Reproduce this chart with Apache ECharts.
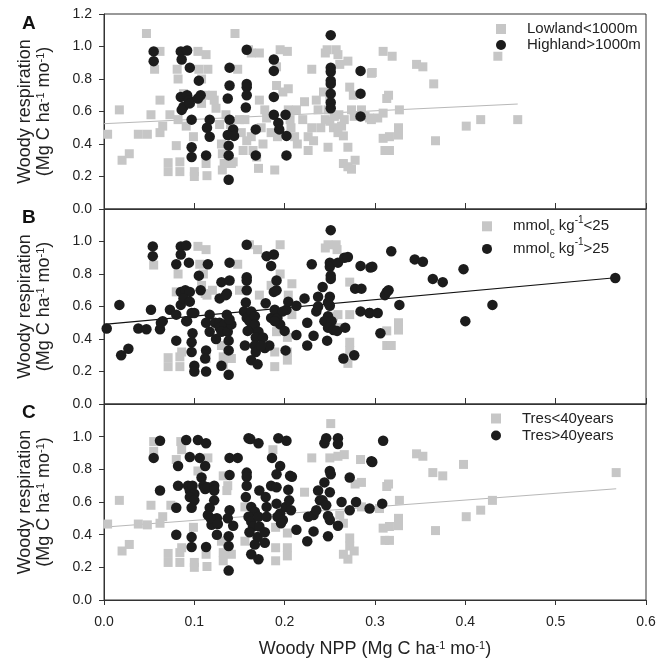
<!DOCTYPE html>
<html>
<head>
<meta charset="utf-8">
<script src="https://cdn.jsdelivr.net/npm/echarts@6/dist/echarts.min.js"></script>
<style>
html,body{margin:0;padding:0;background:#fff;}
#chart{width:671px;height:669px;}
</style>
</head>
<body>
<div id="chart"></div>
<script>
// ---------- Panel A: elevation ----------
const lowlandA = [[0.004,0.46],[0.017,0.61],[0.02,0.30],[0.028,0.34],[0.038,0.46],[0.048,0.46],[0.047,1.08],[0.052,0.58],[0.056,0.86],[0.062,0.97],[0.062,0.67],[0.062,0.47],[0.065,0.51],[0.071,0.285],[0.071,0.23],[0.073,0.58],[0.081,0.86],[0.082,0.80],[0.08,0.39],[0.082,0.55],[0.084,0.29],[0.084,0.23],[0.088,0.71],[0.091,0.51],[0.099,0.445],[0.10,0.23],[0.10,0.20],[0.104,0.97],[0.113,0.95],[0.105,0.86],[0.115,0.86],[0.108,0.80],[0.108,0.65],[0.112,0.70],[0.113,0.28],[0.114,0.205],[0.12,0.70],[0.122,0.67],[0.124,0.62],[0.128,0.52],[0.13,0.40],[0.131,0.34],[0.133,0.28],[0.131,0.24],[0.141,0.28],[0.143,0.29],[0.145,1.08],[0.148,0.86],[0.15,0.55],[0.156,0.55],[0.154,0.36],[0.16,0.98],[0.163,0.96],[0.163,0.445],[0.165,0.36],[0.169,0.32],[0.171,0.25],[0.172,0.96],[0.172,0.67],[0.174,0.50],[0.176,0.40],[0.178,0.61],[0.189,0.24],[0.191,0.875],[0.195,0.98],[0.203,0.97],[0.191,0.76],[0.192,0.445],[0.198,0.72],[0.204,0.74],[0.204,0.61],[0.206,0.55],[0.207,0.50],[0.211,0.445],[0.214,0.40],[0.213,0.61],[0.222,0.66],[0.226,0.445],[0.226,0.36],[0.23,0.86],[0.232,0.42],[0.235,0.67],[0.237,0.61],[0.24,0.50],[0.245,0.96],[0.247,0.98],[0.257,0.98],[0.259,0.95],[0.248,0.38],[0.248,0.61],[0.25,0.54],[0.254,0.50],[0.259,0.47],[0.263,0.51],[0.266,0.55],[0.261,0.89],[0.27,0.91],[0.265,0.45],[0.27,0.38],[0.272,0.75],[0.276,0.70],[0.274,0.61],[0.277,0.57],[0.265,0.28],[0.27,0.26],[0.278,0.30],[0.274,0.245],[0.285,0.61],[0.289,0.57],[0.296,0.835],[0.296,0.55],[0.297,0.84],[0.309,0.97],[0.319,0.94],[0.346,0.89],[0.353,0.875],[0.365,0.77],[0.313,0.68],[0.315,0.70],[0.294,0.56],[0.303,0.56],[0.309,0.59],[0.327,0.61],[0.309,0.435],[0.316,0.445],[0.326,0.455],[0.326,0.50],[0.311,0.36],[0.316,0.36],[0.367,0.42],[0.401,0.51],[0.417,0.55],[0.458,0.55],[0.436,0.94],[0.135,0.58],[0.14,0.52],[0.152,0.47],[0.158,0.42],[0.18,0.56],[0.185,0.47],[0.22,0.55],[0.23,0.50],[0.245,0.55],[0.255,0.57],[0.26,0.58],[0.243,0.72],[0.25,0.69]];
const highlandA = [[0.055,0.97],[0.055,0.91],[0.085,0.97],[0.092,0.975],[0.086,0.92],[0.095,0.87],[0.105,0.79],[0.085,0.69],[0.092,0.70],[0.094,0.67],[0.088,0.63],[0.086,0.61],[0.095,0.65],[0.107,0.70],[0.104,0.68],[0.097,0.55],[0.097,0.38],[0.097,0.32],[0.113,0.33],[0.117,0.55],[0.114,0.50],[0.117,0.445],[0.139,0.87],[0.139,0.76],[0.137,0.68],[0.139,0.55],[0.143,0.49],[0.137,0.455],[0.144,0.45],[0.138,0.39],[0.138,0.33],[0.138,0.18],[0.158,0.98],[0.158,0.77],[0.158,0.75],[0.158,0.70],[0.157,0.625],[0.168,0.49],[0.168,0.33],[0.188,0.92],[0.188,0.85],[0.188,0.69],[0.188,0.58],[0.193,0.53],[0.194,0.49],[0.201,0.58],[0.202,0.45],[0.202,0.33],[0.251,1.07],[0.251,0.87],[0.251,0.845],[0.251,0.79],[0.251,0.77],[0.251,0.71],[0.251,0.655],[0.251,0.62],[0.284,0.85],[0.284,0.71],[0.284,0.57]];
const trendA = [[0,0.525],[0.458,0.646]];

// ---------- Panel B: soil ----------
const lowSoilB = [[0.055,0.855],[0.071,0.285],[0.071,0.23],[0.084,0.29],[0.084,0.23],[0.086,0.32],[0.082,0.80],[0.08,0.69],[0.104,0.97],[0.113,0.95],[0.106,0.86],[0.11,0.80],[0.108,0.73],[0.112,0.68],[0.12,0.70],[0.114,0.67],[0.113,0.32],[0.113,0.28],[0.13,0.36],[0.132,0.29],[0.141,0.28],[0.132,0.24],[0.148,0.86],[0.15,0.70],[0.161,0.98],[0.17,0.95],[0.172,0.67],[0.195,0.98],[0.195,0.80],[0.185,0.73],[0.189,0.70],[0.191,0.445],[0.189,0.32],[0.189,0.23],[0.203,0.41],[0.203,0.32],[0.203,0.27],[0.204,0.67],[0.208,0.74],[0.208,0.55],[0.245,0.96],[0.248,0.98],[0.257,0.98],[0.258,0.95],[0.254,0.54],[0.259,0.55],[0.272,0.55],[0.272,0.75],[0.272,0.38],[0.272,0.33],[0.27,0.25],[0.259,0.47],[0.313,0.45],[0.326,0.50],[0.326,0.455],[0.313,0.36],[0.318,0.36]];
const highSoilB = [[0.003,0.465],[0.017,0.61],[0.019,0.30],[0.027,0.34],[0.038,0.465],[0.047,0.46],[0.052,0.58],[0.054,0.97],[0.054,0.91],[0.062,0.46],[0.065,0.51],[0.063,0.50],[0.073,0.58],[0.08,0.86],[0.08,0.39],[0.08,0.55],[0.085,0.97],[0.091,0.975],[0.085,0.92],[0.094,0.87],[0.085,0.69],[0.09,0.70],[0.095,0.69],[0.085,0.61],[0.088,0.65],[0.095,0.63],[0.091,0.51],[0.1,0.56],[0.097,0.56],[0.092,0.51],[0.098,0.435],[0.097,0.38],[0.097,0.32],[0.1,0.235],[0.1,0.20],[0.113,0.20],[0.113,0.33],[0.112,0.28],[0.105,0.79],[0.107,0.70],[0.115,0.86],[0.117,0.55],[0.113,0.50],[0.117,0.445],[0.124,0.40],[0.123,0.50],[0.128,0.50],[0.128,0.47],[0.133,0.49],[0.13,0.445],[0.137,0.445],[0.141,0.49],[0.136,0.55],[0.139,0.52],[0.138,0.39],[0.138,0.33],[0.138,0.18],[0.13,0.235],[0.128,0.65],[0.135,0.67],[0.136,0.68],[0.13,0.75],[0.139,0.76],[0.139,0.87],[0.158,0.98],[0.158,0.78],[0.158,0.76],[0.158,0.70],[0.157,0.625],[0.155,0.57],[0.158,0.53],[0.163,0.57],[0.161,0.51],[0.167,0.54],[0.163,0.465],[0.167,0.49],[0.171,0.445],[0.159,0.45],[0.168,0.41],[0.176,0.41],[0.167,0.36],[0.156,0.36],[0.168,0.32],[0.163,0.27],[0.17,0.245],[0.178,0.345],[0.179,0.62],[0.18,0.91],[0.188,0.92],[0.185,0.85],[0.191,0.76],[0.188,0.69],[0.191,0.70],[0.185,0.53],[0.189,0.58],[0.192,0.53],[0.195,0.49],[0.2,0.45],[0.202,0.58],[0.204,0.63],[0.198,0.57],[0.189,0.51],[0.183,0.36],[0.174,0.36],[0.201,0.33],[0.213,0.605],[0.213,0.425],[0.222,0.65],[0.225,0.50],[0.225,0.36],[0.23,0.86],[0.232,0.42],[0.237,0.66],[0.235,0.57],[0.242,0.72],[0.248,0.625],[0.25,0.66],[0.25,0.605],[0.237,0.60],[0.248,0.54],[0.244,0.51],[0.252,0.51],[0.248,0.47],[0.254,0.455],[0.258,0.45],[0.267,0.47],[0.247,0.39],[0.251,1.07],[0.25,0.87],[0.25,0.845],[0.251,0.79],[0.251,0.77],[0.259,0.87],[0.266,0.90],[0.27,0.905],[0.265,0.28],[0.277,0.30],[0.278,0.71],[0.285,0.71],[0.284,0.85],[0.295,0.84],[0.284,0.57],[0.294,0.56],[0.318,0.94],[0.297,0.845],[0.344,0.89],[0.353,0.875],[0.364,0.77],[0.375,0.75],[0.398,0.83],[0.313,0.69],[0.311,0.67],[0.315,0.70],[0.327,0.61],[0.294,0.56],[0.303,0.56],[0.306,0.435],[0.4,0.51],[0.43,0.61],[0.566,0.775]];
const trendB = [[0,0.49],[0.566,0.777]];

// ---------- Panel C: residence time ----------
const shortTresC = [[0.004,0.465],[0.017,0.61],[0.02,0.30],[0.028,0.34],[0.038,0.465],[0.048,0.46],[0.052,0.58],[0.055,0.97],[0.055,0.91],[0.062,0.47],[0.065,0.51],[0.071,0.285],[0.071,0.23],[0.084,0.29],[0.084,0.23],[0.086,0.32],[0.074,0.58],[0.08,0.86],[0.085,0.97],[0.086,0.92],[0.099,0.445],[0.10,0.23],[0.10,0.20],[0.104,0.79],[0.115,0.87],[0.113,0.28],[0.114,0.205],[0.13,0.36],[0.132,0.29],[0.141,0.28],[0.132,0.24],[0.136,0.67],[0.137,0.70],[0.132,0.76],[0.156,0.57],[0.156,0.36],[0.187,0.92],[0.189,0.69],[0.19,0.445],[0.19,0.32],[0.19,0.24],[0.203,0.41],[0.203,0.32],[0.203,0.27],[0.222,0.66],[0.23,0.87],[0.251,1.08],[0.25,0.87],[0.259,0.88],[0.266,0.89],[0.261,0.52],[0.265,0.47],[0.272,0.38],[0.272,0.33],[0.27,0.25],[0.265,0.28],[0.277,0.30],[0.278,0.71],[0.285,0.72],[0.284,0.86],[0.285,0.57],[0.346,0.895],[0.353,0.88],[0.364,0.78],[0.375,0.76],[0.398,0.83],[0.313,0.695],[0.315,0.71],[0.327,0.61],[0.305,0.56],[0.326,0.50],[0.326,0.455],[0.316,0.45],[0.309,0.44],[0.311,0.365],[0.316,0.365],[0.367,0.425],[0.401,0.51],[0.417,0.55],[0.43,0.61],[0.567,0.78]];
const longTresC = [[0.062,0.975],[0.055,0.87],[0.062,0.67],[0.082,0.82],[0.082,0.70],[0.08,0.565],[0.08,0.40],[0.091,0.98],[0.104,0.98],[0.113,0.96],[0.095,0.875],[0.106,0.87],[0.112,0.82],[0.093,0.70],[0.095,0.67],[0.098,0.70],[0.1,0.65],[0.095,0.63],[0.1,0.61],[0.108,0.75],[0.11,0.70],[0.112,0.68],[0.115,0.69],[0.122,0.70],[0.122,0.67],[0.122,0.61],[0.097,0.565],[0.097,0.385],[0.097,0.325],[0.113,0.325],[0.117,0.565],[0.115,0.52],[0.119,0.46],[0.125,0.50],[0.125,0.40],[0.118,0.50],[0.126,0.465],[0.139,0.87],[0.148,0.87],[0.139,0.765],[0.139,0.55],[0.137,0.50],[0.143,0.455],[0.138,0.39],[0.138,0.33],[0.138,0.18],[0.16,0.99],[0.162,0.985],[0.171,0.96],[0.158,0.78],[0.158,0.755],[0.158,0.70],[0.157,0.63],[0.163,0.57],[0.167,0.54],[0.16,0.51],[0.163,0.48],[0.171,0.51],[0.165,0.45],[0.172,0.45],[0.161,0.415],[0.17,0.385],[0.178,0.415],[0.167,0.34],[0.178,0.35],[0.163,0.28],[0.171,0.25],[0.18,0.57],[0.18,0.51],[0.172,0.67],[0.179,0.63],[0.185,0.70],[0.191,0.69],[0.186,0.87],[0.193,0.99],[0.202,0.975],[0.195,0.82],[0.191,0.77],[0.206,0.76],[0.208,0.755],[0.204,0.675],[0.191,0.59],[0.195,0.53],[0.198,0.49],[0.201,0.57],[0.205,0.61],[0.207,0.55],[0.192,0.51],[0.196,0.47],[0.213,0.43],[0.225,0.36],[0.226,0.51],[0.232,0.52],[0.235,0.55],[0.239,0.61],[0.232,0.42],[0.237,0.67],[0.244,0.96],[0.246,0.99],[0.259,0.99],[0.259,0.955],[0.25,0.79],[0.251,0.77],[0.244,0.72],[0.25,0.66],[0.242,0.61],[0.246,0.58],[0.248,0.515],[0.25,0.49],[0.259,0.455],[0.248,0.39],[0.263,0.60],[0.272,0.75],[0.279,0.60],[0.272,0.55],[0.296,0.85],[0.294,0.56],[0.309,0.975],[0.297,0.845],[0.308,0.59]];
const trendC = [[0,0.446],[0.567,0.681]];

// ---------- labels ----------
const panelLetters = ['A','B','C'];
const seriesNames = [['Lowland<1000m','Highland>1000m'],['mmolc<25','mmolc>25'],['Tres<40years','Tres>40years']];
const legendRich = {
  'Lowland<1000m':'{g|}{t|Lowland<1000m}',
  'Highland>1000m':'{g|}{t|Highland>1000m}',
  'mmolc<25':'{g|}{t|mmol}{sub|c}{t| kg}{sup|-1}{t|<25}',
  'mmolc>25':'{g|}{t|mmol}{sub|c}{t| kg}{sup|-1}{t|>25}',
  'Tres<40years':'{g|}{t|Tres<40years}',
  'Tres>40years':'{g|}{t|Tres>40years}'
};
const yTitle = 'Woody respiration\n(Mg C ha{sup|-1} mo{sup|-1})';
const xTitle = 'Woody NPP (Mg C ha{sup|-1} mo{sup|-1})';
const xTicks = {min:0, max:0.6, interval:0.1};
const yTicks = {min:0, max:1.2, interval:0.2};

const FONT = '"Liberation Sans", Arial, Helvetica, sans-serif';
const TXT = '#222';
const GRAY = '#c6c6c6';
const BLACK = '#1c1c1c';

const tops = [14, 209, 404];
const heights = [195, 195, 196];
const grids = tops.map((t,i)=>({left:104, top:t, width:542, height:heights[i], show:true, borderColor:'#333', borderWidth:1}));

const xAxes = [0,1,2].map(i=>({
  type:'value', gridIndex:i, min:xTicks.min, max:xTicks.max, interval:xTicks.interval,
  axisLine:{show:true, lineStyle:{color:'#333', width:1}},
  axisTick:{show:true, inside: i<2, length: i<2 ? 6 : 5, lineStyle:{color:'#333'}},
  splitLine:{show:false},
  axisLabel:{show: i===2, formatter:v=>v.toFixed(1), fontSize:14, color:TXT, fontFamily:FONT, margin:15},
  name: i===2 ? xTitle : '',
  nameLocation:'middle', nameGap:40,
  nameTextStyle:{fontSize:18, color:TXT, fontFamily:FONT, rich:{sup:{fontSize:11, verticalAlign:'top', lineHeight:12, color:TXT, fontFamily:FONT}}}
}));

const yAxes = [0,1,2].map(i=>({
  type:'value', gridIndex:i, min:yTicks.min, max:yTicks.max, interval:yTicks.interval,
  axisLine:{show:true, lineStyle:{color:'#333', width:1}},
  axisTick:{show:true, inside:false, length:5, lineStyle:{color:'#333'}},
  splitLine:{show:false},
  axisLabel:{formatter:v=>v.toFixed(1), fontSize:14, color:TXT, fontFamily:FONT, margin:12, showMaxLabel: i===0},
  name: yTitle, nameLocation:'middle', nameRotate:90, nameGap:50,
  nameTextStyle:{fontSize:18, lineHeight:19, color:TXT, fontFamily:FONT, rich:{sup:{fontSize:11, verticalAlign:'top', lineHeight:12, color:TXT, fontFamily:FONT}}}
}));

function scatter(name, data, i, square){
  return {
    name:name, type:'scatter', xAxisIndex:i, yAxisIndex:i, data:data,
    symbol: square ? 'rect' : 'circle', symbolSize: square ? 9 : 10.5,
    itemStyle:{color: square ? GRAY : BLACK, opacity:1},
    emphasis:{disabled:true}, silent:true, z: square ? 3 : 4
  };
}
function trend(data, i, color, width){
  return {type:'line', xAxisIndex:i, yAxisIndex:i, data:data, showSymbol:false, symbol:'none',
    lineStyle:{color:color, width:width}, silent:true, z:2, animation:false};
}

const series = [
  trend(trendA,0,'#b8b8b8',1),
  scatter(seriesNames[0][0], lowlandA, 0, true),
  scatter(seriesNames[0][1], highlandA, 0, false),
  trend(trendB,1,'#111',1.2),
  scatter(seriesNames[1][0], lowSoilB, 1, true),
  scatter(seriesNames[1][1], highSoilB, 1, false),
  trend(trendC,2,'#b8b8b8',1),
  scatter(seriesNames[2][0], shortTresC, 2, true),
  scatter(seriesNames[2][1], longTresC, 2, false)
];

const legendRichStyle = {
  g:{width:16},
  t:{fontSize:15, color:TXT, fontFamily:FONT},
  sub:{fontSize:10, color:TXT, fontFamily:FONT, verticalAlign:'bottom', lineHeight:10},
  sup:{fontSize:10, color:TXT, fontFamily:FONT, verticalAlign:'top', lineHeight:10}
};
const legendPos = [{left:496, top:21, gap:0, lh:16}, {left:482, top:215, gap:0, lh:22.6}, {left:491, top:410, gap:0, lh:17}];
const legends = [0,1,2].map(i=>({
  data: seriesNames[i], orient:'vertical', left:legendPos[i].left, top:legendPos[i].top,
  itemWidth:10, itemHeight:10, itemGap:legendPos[i].gap, padding:0, selectedMode:false,
  formatter: n=>legendRich[n],
  textStyle:{color:TXT, fontSize:15, fontFamily:FONT, lineHeight:legendPos[i].lh, rich:legendRichStyle}
}));

const graphics = panelLetters.map((L,i)=>({
  type:'text', left:22, top:tops[i]+(i===0?0:-1),
  style:{text:L, font:'bold 19px ' + FONT, fill:'#111'}
}));

const chart = echarts.init(document.getElementById('chart'), null, {renderer:'canvas'});
chart.setOption({
  backgroundColor:'#fff',
  animation:false,
  grid:grids, xAxis:xAxes, yAxis:yAxes, series:series, legend:legends, graphic:graphics
});
</script>
</body>
</html>
